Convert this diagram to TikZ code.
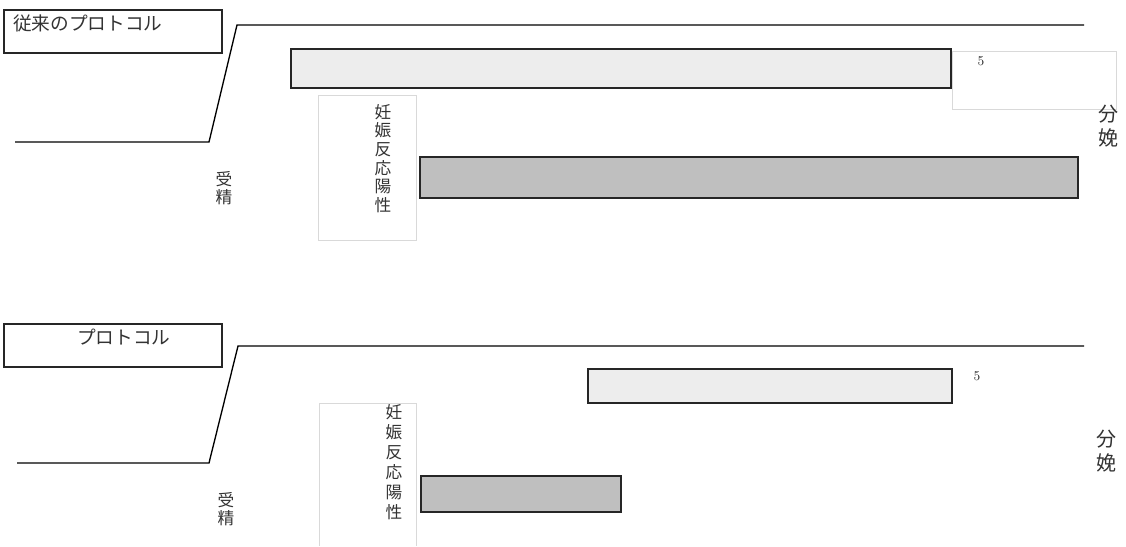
\documentclass[tikz,border=0pt]{standalone}
\usepackage{fontspec}
\newfontfamily\jpfont{Noto Sans CJK JP}
\usepackage{tikz}

\tikzset{
  lightbar/.style={draw=black!85, line width=1.1pt, fill=black!7},
  darkbar/.style={draw=black!85, line width=1.1pt, fill=black!25},
  labelbox/.style={draw=black!85, line width=0.9pt},
  thinbox/.style={draw=black!15, line width=0.6pt},
  stepline/.style={draw=black, line width=1pt},
  jptext/.style={inner sep=0pt, text=black!80, font=\jpfont\fontsize{14}{16}\selectfont},
  vtext/.style={jptext, align=center, font=\jpfont\fontsize{12.5}{14}\selectfont},
  bigtext/.style={jptext, align=center, font=\jpfont\fontsize{15}{18}\selectfont},
  numtext/.style={inner sep=0pt, text=black!85, font=\fontsize{10}{11}\selectfont}
}

\begin{document}
\begin{tikzpicture}[x=0.75pt, y=-0.75pt]
\useasboundingbox (0,0) rectangle (1126,546);

% upper panel
\draw[labelbox] (4,10) rectangle (222,53);
\node[jptext, anchor=west] (oldname) at (13,23) {従来のプロトコル};
\draw[stepline] (15,142) coordinate (oldstart) -- (209,142) -- (237,25) -- (1084,25) coordinate (oldend);
\draw[lightbar] (291,49) rectangle (951,88);
\draw[thinbox] (952,51) rectangle (1116,109);
\node[numtext] (oldfive) at (981,61) {5};
\draw[thinbox] (318,95) rectangle (416,240);
\node[vtext, anchor=north] (oldpos) at (383,104) {妊\\娠\\反\\応\\陽\\性};
\node[vtext] (oldfert) at (224,188) {受\\精};
\draw[darkbar] (420,157) rectangle (1078,198);
\node[bigtext] (oldbirth) at (1108,126) {分\\娩};

% lower panel
\draw[labelbox] (4,324) rectangle (222,367);
\node[jptext, anchor=west] (newname) at (77,337) {プロトコル};
\draw[stepline] (17,463) coordinate (newstart) -- (209,463) -- (238,346) -- (1084,346) coordinate (newend);
\draw[lightbar] (588,369) rectangle (952,403);
\node[numtext] (newfive) at (977,376) {5};
\draw[thinbox] (319,403) -- (319,546) (416,403) -- (416,546) (319,403) -- (416,403);
\node[vtext, anchor=north, font=\jpfont\fontsize{12.5}{15}\selectfont] (newpos) at (394,404) {妊\\娠\\反\\応\\陽\\性};
\node[vtext] (newfert) at (226,509) {受\\精};
\draw[darkbar] (421,476) rectangle (621,512);
\node[bigtext] (newbirth) at (1106,451) {分\\娩};
\end{tikzpicture}
\end{document}
